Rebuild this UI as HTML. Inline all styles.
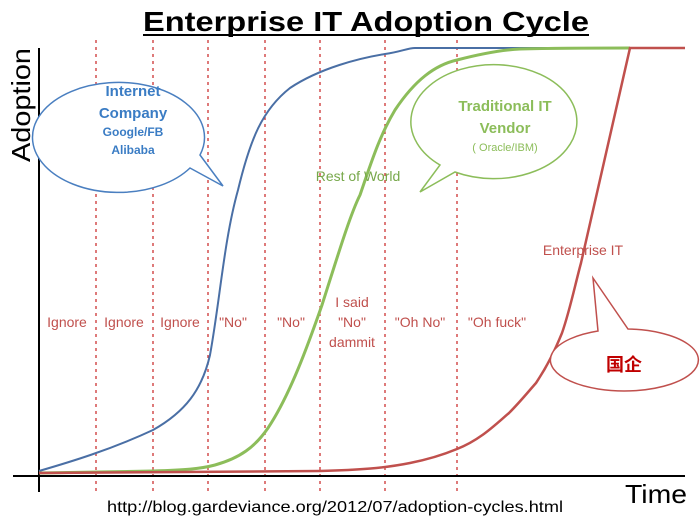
<!DOCTYPE html>
<html><head><meta charset="utf-8"><style>
body{margin:0;background:#fff;}
svg{display:block;font-family:"Liberation Sans","Noto Sans CJK SC",sans-serif;}
</style></head><body>
<svg width="700" height="519" viewBox="0 0 700 519">
<text x="143" y="31" font-size="28" font-weight="bold" fill="#000" textLength="446" lengthAdjust="spacingAndGlyphs">Enterprise IT Adoption Cycle</text>
<line x1="143" y1="35" x2="589" y2="35" stroke="#000" stroke-width="2"/>
<text transform="translate(30,162) rotate(-90)" font-size="26" fill="#000" textLength="114" lengthAdjust="spacingAndGlyphs">Adoption</text>
<g stroke="#cc3333" stroke-width="1.3" stroke-dasharray="3,4">
<line x1="96" y1="40" x2="96" y2="492"/><line x1="153" y1="40" x2="153" y2="492"/>
<line x1="208" y1="40" x2="208" y2="492"/><line x1="265" y1="40" x2="265" y2="492"/>
<line x1="320" y1="40" x2="320" y2="492"/><line x1="385" y1="40" x2="385" y2="492"/>
<line x1="457" y1="40" x2="457" y2="492"/>
</g>
<line x1="39" y1="48" x2="39" y2="492" stroke="#000" stroke-width="2"/>
<line x1="13" y1="476" x2="685" y2="476" stroke="#000" stroke-width="2"/>
<path d="M39,471 C70,462 110,450 153,430 C185,412 202,390 210,355 C220,300 224,240 238,190 C250,140 262,110 290,88 C320,68 360,58 385,54 C400,52 408,48 415,48 L638,48" fill="none" stroke="#4a6fa5" stroke-width="2"/>
<path d="M39,473 L153,471 C185,470 200,469 215,465 C240,458 255,447 268,428 C290,395 308,345 322,305 C338,255 350,215 360,195 C372,160 380,135 395,110 C415,80 435,65 457,60 C480,54 500,50 520,49 C560,48 600,48 630,48" fill="none" stroke="#8cbd5a" stroke-width="3"/>
<path d="M39,473 L320,471 C360,470 385,468 410,463 C430,459 445,454 457,449 C480,440 495,425 509,413 C520,402 528,392 536,383 C548,365 555,350 562,333 C570,310 575,285 581,263 L630,48 L685,48" fill="none" stroke="#c0504d" stroke-width="2.5"/>
<g stroke-width="1.5">
<path d="M200,155 A86,55 0 1 0 190,168 L223,186 Z" stroke="#4a7fc0" fill="#fff"/>
<path d="M440,165 A83,57 0 1 1 455,172 L420,192 Z" stroke="#8cbd5a" fill="#fff"/>
<path d="M628,329 A74,31 0 1 1 598,331 L593,278 Z" stroke="#c0504d" fill="#fff"/>
</g>
<g text-anchor="middle" fill="#3a7cc4" font-weight="bold">
<text x="133" y="96" font-size="15">Internet</text>
<text x="133" y="118" font-size="15">Company</text>
<text x="133" y="136" font-size="12">Google/FB</text>
<text x="133" y="154" font-size="12">Alibaba</text>
</g>
<g text-anchor="middle" fill="#8cbd5a" font-weight="bold">
<text x="505" y="111" font-size="15">Traditional IT</text>
<text x="505" y="133" font-size="15">Vendor</text>
<text x="505" y="151" font-size="11" font-weight="normal">( Oracle/IBM)</text>
</g>
<text x="358" y="181" font-size="14" fill="#77a84a" text-anchor="middle">Rest of World</text>
<text x="583" y="255" font-size="14" fill="#c0504d" text-anchor="middle">Enterprise IT</text>
<text x="624" y="371" font-size="18" font-weight="bold" fill="#c00000" text-anchor="middle">国企</text>
<g fill="#c0504d" font-size="14" text-anchor="middle">
<text x="67" y="327">Ignore</text><text x="124" y="327">Ignore</text><text x="180" y="327">Ignore</text>
<text x="233" y="327">"No"</text><text x="291" y="327">"No"</text>
<text x="352" y="307">I said</text><text x="352" y="327">"No"</text><text x="352" y="347">dammit</text>
<text x="420" y="327">"Oh No"</text><text x="497" y="327">"Oh fuck"</text>
</g>
<text x="625" y="503" font-size="26" fill="#000" textLength="62" lengthAdjust="spacingAndGlyphs">Time</text>
<text x="107" y="512" font-size="16" fill="#000" textLength="456" lengthAdjust="spacingAndGlyphs">http://blog.gardeviance.org/2012/07/adoption-cycles.html</text>
</svg>
</body></html>
